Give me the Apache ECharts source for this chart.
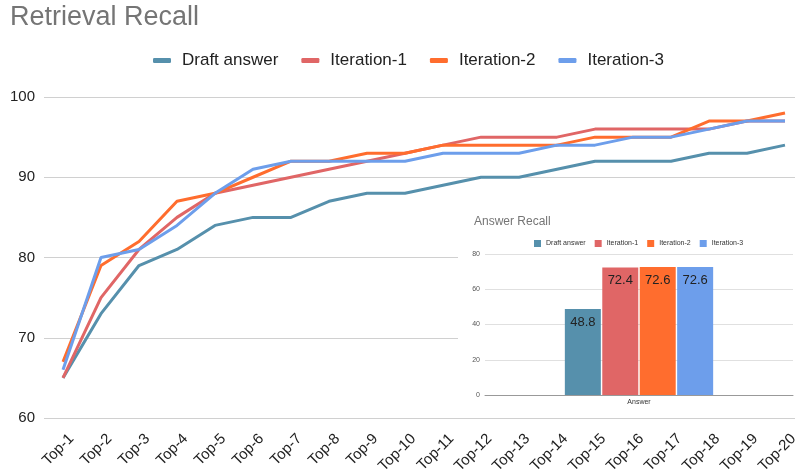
<!DOCTYPE html>
<html>
<head>
<meta charset="utf-8">
<script src="https://cdn.jsdelivr.net/npm/echarts@6/dist/echarts.min.js"></script>
<style>
  html, body { margin: 0; padding: 0; background: #fff; }
  #main { position: absolute; left: 0; top: 0; width: 795px; height: 473px; }
  #inset { position: absolute; left: 458px; top: 205px; width: 337px; height: 210px; background: #fff; }
</style>
</head>
<body>
<div id="main"></div>
<div id="inset"></div>
<script>
// retrieval recall per top-k
const topK = ['Top-1', 'Top-2', 'Top-3', 'Top-4', 'Top-5', 'Top-6', 'Top-7', 'Top-8', 'Top-9', 'Top-10',
  'Top-11', 'Top-12', 'Top-13', 'Top-14', 'Top-15', 'Top-16', 'Top-17', 'Top-18', 'Top-19', 'Top-20']
const draftAnswer = [65, 73, 79, 81, 84, 85, 85, 87, 88, 88, 89, 90, 90, 91, 92, 92, 92, 93, 93, 94]
const iteration1 = [65, 75, 81, 85, 88, 89, 90, 91, 92, 93, 94, 95, 95, 95, 96, 96, 96, 96, 97, 97]
const iteration2 = [67, 79, 82, 87, 88, 90, 92, 92, 93, 93, 94, 94, 94, 94, 95, 95, 95, 97, 97, 98]
const iteration3 = [66, 80, 81, 84, 88, 91, 92, 92, 92, 92, 93, 93, 93, 94, 94, 95, 95, 96, 97, 97]

// answer recall (inset)
const answerCategories = ['Answer']
const answerDraft = [48.8]
const answerIter1 = [72.4]
const answerIter2 = [72.6]
const answerIter3 = [72.6]

const seriesNames = ['Draft answer', 'Iteration-1', 'Iteration-2', 'Iteration-3']
const colors = ['#5690ac', '#e06666', '#ff6d2e', '#6d9eeb']
const font = 'Liberation Sans, Arial, sans-serif'

const mainChart = echarts.init(document.getElementById('main'))
mainChart.setOption({
  animation: false,
  color: colors,
  title: {
    text: 'Retrieval Recall',
    left: 5,
    top: -1,
    textStyle: { fontFamily: font, fontSize: 27, fontWeight: 'normal', color: '#757575' }
  },
  legend: {
    left: 148,
    top: 47,
    icon: 'roundRect',
    itemWidth: 18,
    itemHeight: 5,
    itemGap: 23,
    textStyle: { fontFamily: font, fontSize: 17, color: '#222', padding: [0, 0, 0, 6] },
    data: seriesNames
  },
  grid: { left: 44, right: -9, top: 97, bottom: 55, outerBoundsMode: 'none' },
  xAxis: {
    type: 'category',
    data: topK,
    boundaryGap: true,
    axisLine: { show: false },
    axisTick: { show: false },
    axisLabel: {
      interval: 0,
      rotate: 45,
      margin: 10,
      verticalAlign: 'top',
      lineHeight: 24,
      fontFamily: font,
      fontSize: 15,
      color: '#222'
    }
  },
  yAxis: {
    type: 'value',
    min: 60,
    max: 100,
    interval: 10,
    axisLabel: { margin: 9, fontFamily: font, fontSize: 15, color: '#222' },
    splitLine: { lineStyle: { color: '#d0d0d0', width: 1 } }
  },
  series: [
    { name: seriesNames[0], type: 'line', data: draftAnswer, showSymbol: false, lineStyle: { width: 3 } },
    { name: seriesNames[1], type: 'line', data: iteration1, showSymbol: false, lineStyle: { width: 3 } },
    { name: seriesNames[2], type: 'line', data: iteration2, showSymbol: false, lineStyle: { width: 3 } },
    { name: seriesNames[3], type: 'line', data: iteration3, showSymbol: false, lineStyle: { width: 3 } }
  ]
})

const barLabel = {
  show: true,
  position: 'insideTop',
  distance: 7,
  fontFamily: font,
  fontSize: 13,
  color: '#222'
}

const insetChart = echarts.init(document.getElementById('inset'))
insetChart.setOption({
  animation: false,
  color: colors,
  title: {
    text: 'Answer Recall',
    left: 11,
    top: 6,
    textStyle: { fontFamily: font, fontSize: 12, fontWeight: 'normal', color: '#757575' }
  },
  legend: {
    left: 71,
    top: 30,
    icon: 'rect',
    itemWidth: 7,
    itemHeight: 7,
    itemGap: 9,
    textStyle: { fontFamily: font, fontSize: 7, color: '#333' },
    data: seriesNames
  },
  grid: { left: 27, right: 2, top: 49, bottom: 20, outerBoundsMode: 'none' },
  xAxis: {
    type: 'category',
    data: answerCategories,
    axisTick: { show: false },
    axisLine: { lineStyle: { color: '#999', width: 1 } },
    axisLabel: { margin: 4, fontFamily: font, fontSize: 7, color: '#333' }
  },
  yAxis: {
    type: 'value',
    min: 0,
    max: 80,
    interval: 20,
    axisLabel: { margin: 5, fontFamily: font, fontSize: 7, color: '#555' },
    splitLine: { lineStyle: { color: '#e0e0e0', width: 1 } }
  },
  series: [
    { name: seriesNames[0], type: 'bar', data: answerDraft, barWidth: 36, barGap: '4%', label: barLabel },
    { name: seriesNames[1], type: 'bar', data: answerIter1, barWidth: 36, barGap: '4%', label: barLabel },
    { name: seriesNames[2], type: 'bar', data: answerIter2, barWidth: 36, barGap: '4%', label: barLabel },
    { name: seriesNames[3], type: 'bar', data: answerIter3, barWidth: 36, barGap: '4%', label: barLabel }
  ]
})
</script>
</body>
</html>
